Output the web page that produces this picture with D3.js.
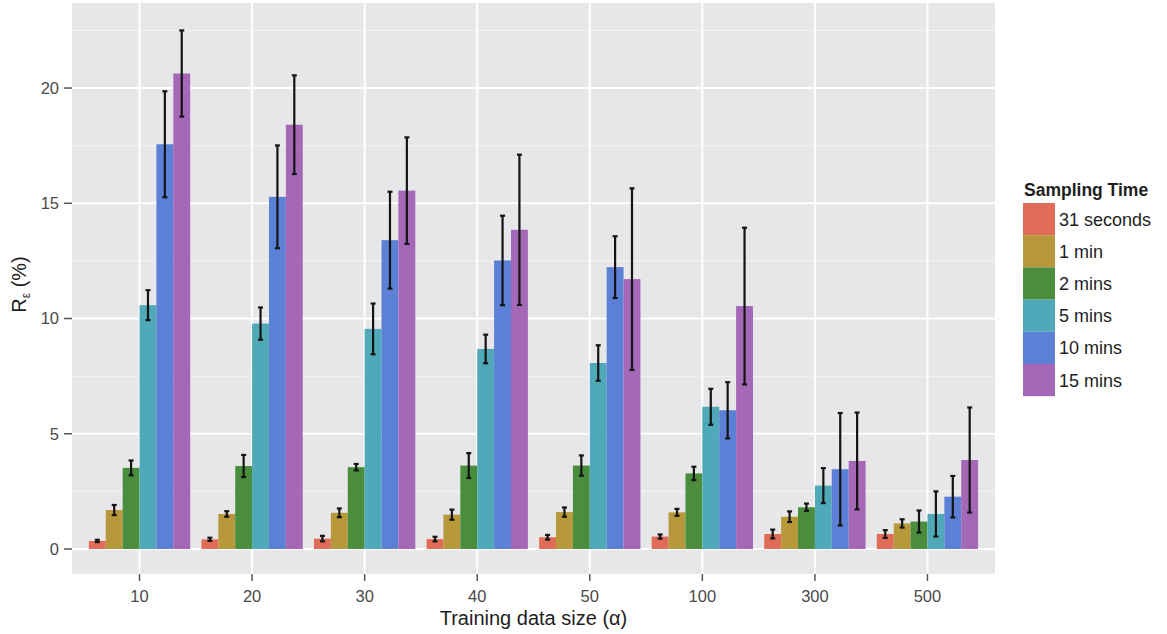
<!DOCTYPE html>
<html>
<head>
<meta charset="utf-8">
<script src="https://cdn.jsdelivr.net/npm/d3@7"></script>
<style>
  html, body { margin: 0; padding: 0; background: #ffffff; }
  svg { display: block; }
  text { font-family: "Liberation Sans", Arial, Helvetica, sans-serif; }
</style>
</head>
<body>
<svg id="chart" width="1167" height="634"></svg>
<script>
// ---- Data ----
const categories = ["10", "20", "30", "40", "50", "100", "300", "500"];
const seriesNames = ["31 seconds", "1 min", "2 mins", "5 mins", "10 mins", "15 mins"];
const seriesColors = ["#E06C57", "#B7983A", "#4A8D3D", "#4FA9B8", "#5C80D6", "#A468B7"];

const mean31s  = [0.35, 0.42, 0.45, 0.43, 0.51, 0.54, 0.65, 0.65];
const err31s   = [0.05, 0.07, 0.12, 0.10, 0.10, 0.09, 0.19, 0.17];
const mean1m   = [1.69, 1.52, 1.57, 1.49, 1.60, 1.59, 1.40, 1.11];
const err1m    = [0.22, 0.12, 0.19, 0.22, 0.20, 0.15, 0.23, 0.18];
const mean2m   = [3.52, 3.60, 3.55, 3.62, 3.62, 3.28, 1.81, 1.19];
const err2m    = [0.32, 0.48, 0.14, 0.54, 0.44, 0.29, 0.16, 0.48];
const mean5m   = [10.58, 9.78, 9.55, 8.68, 8.07, 6.17, 2.75, 1.52];
const err5m    = [0.65, 0.70, 1.10, 0.62, 0.77, 0.78, 0.76, 0.98];
const mean10m  = [17.56, 15.28, 13.40, 12.52, 12.23, 6.02, 3.46, 2.27];
const err10m   = [2.30, 2.23, 2.10, 1.94, 1.34, 1.22, 2.44, 0.90];
const mean15m  = [20.63, 18.41, 15.55, 13.85, 11.71, 10.54, 3.82, 3.86];
const err15m   = [1.87, 2.14, 2.31, 3.26, 3.94, 3.40, 2.10, 2.28];

const yMajorTicks = [0, 5, 10, 15, 20];
const yMinorTicks = [2.5, 7.5, 12.5, 17.5, 22.5];

const allMeans = [mean31s, mean1m, mean2m, mean5m, mean10m, mean15m];
const allErrs  = [err31s, err1m, err2m, err5m, err10m, err15m];

const records = [];
categories.forEach((c, ci) => {
  seriesNames.forEach((s, si) => {
    records.push({ cat: c, series: s, value: allMeans[si][ci], err: allErrs[si][ci] });
  });
});

// ---- Layout ----
const svg = d3.select("#chart");
const panel = { left: 72, right: 995, top: 3, bottom: 574 };

// discrete axis with 0.6-unit expansion on each side (ggplot style)
const x = d3.scalePoint().domain(categories).range([panel.left, panel.right]).padding(0.6);
const step = x.step();
const xSub = d3.scaleBand().domain(seriesNames).range([-0.45 * step, 0.45 * step]).padding(0);

const y = d3.scaleLinear().domain([-1.085, 23.69]).range([panel.bottom, panel.top]);
const color = d3.scaleOrdinal().domain(seriesNames).range(seriesColors);

// panel background
svg.append("rect")
  .attr("x", panel.left).attr("y", panel.top)
  .attr("width", panel.right - panel.left).attr("height", panel.bottom - panel.top)
  .attr("fill", "#E7E7EA");

// grid
const grid = svg.append("g");
grid.selectAll("line.minor").data(yMinorTicks).enter().append("line")
  .attr("x1", panel.left).attr("x2", panel.right)
  .attr("y1", d => y(d)).attr("y2", d => y(d))
  .attr("stroke", "#F5F5F6").attr("stroke-width", 1);
grid.selectAll("line.major").data(yMajorTicks).enter().append("line")
  .attr("x1", panel.left).attr("x2", panel.right)
  .attr("y1", d => y(d)).attr("y2", d => y(d))
  .attr("stroke", "#FFFFFF").attr("stroke-width", 2);
grid.selectAll("line.vmajor").data(categories).enter().append("line")
  .attr("x1", d => x(d)).attr("x2", d => x(d))
  .attr("y1", panel.top).attr("y2", panel.bottom)
  .attr("stroke", "#FFFFFF").attr("stroke-width", 2);

// bars
svg.append("g").selectAll("rect").data(records).enter().append("rect")
  .attr("x", d => x(d.cat) + xSub(d.series))
  .attr("width", xSub.bandwidth())
  .attr("y", d => y(d.value))
  .attr("height", d => y(0) - y(d.value))
  .attr("fill", d => color(d.series));

// error bars
const eb = svg.append("g").attr("stroke", "#141414").attr("stroke-width", 2.2);
const capW = 2.5;
records.forEach(d => {
  const cx = x(d.cat) + xSub(d.series) + xSub.bandwidth() / 2;
  const y1 = y(d.value + d.err), y2 = y(Math.max(0, d.value - d.err));
  eb.append("line").attr("x1", cx).attr("x2", cx).attr("y1", y1).attr("y2", y2);
  eb.append("line").attr("x1", cx - capW).attr("x2", cx + capW).attr("y1", y1).attr("y2", y1);
  eb.append("line").attr("x1", cx - capW).attr("x2", cx + capW).attr("y1", y2).attr("y2", y2);
});

// y axis
const yAxis = svg.append("g");
yMajorTicks.forEach(t => {
  yAxis.append("line").attr("x1", 64).attr("x2", panel.left)
    .attr("y1", y(t)).attr("y2", y(t)).attr("stroke", "#555").attr("stroke-width", 1.5);
  yAxis.append("text").attr("x", 59).attr("y", y(t)).attr("dy", "0.36em")
    .attr("text-anchor", "end").attr("font-size", 16.5).attr("fill", "#4a4a4a").text(t);
});

// x axis
const xAxis = svg.append("g");
categories.forEach(c => {
  const cx = x(c);
  xAxis.append("line").attr("x1", cx).attr("x2", cx)
    .attr("y1", panel.bottom).attr("y2", panel.bottom + 7).attr("stroke", "#555").attr("stroke-width", 1.5);
  xAxis.append("text").attr("x", cx).attr("y", 602)
    .attr("text-anchor", "middle").attr("font-size", 16.5).attr("fill", "#4a4a4a").text(c);
});

// axis titles
svg.append("text").attr("x", (panel.left + panel.right) / 2).attr("y", 625)
  .attr("text-anchor", "middle").attr("font-size", 20).attr("fill", "#1e1e1e")
  .text("Training data size (\u03B1)");

const yt = svg.append("text")
  .attr("transform", `translate(26, ${(panel.top + panel.bottom) / 2 - 4}) rotate(-90)`)
  .attr("text-anchor", "middle").attr("font-size", 20).attr("fill", "#1e1e1e");
yt.append("tspan").text("R");
yt.append("tspan").attr("font-size", 12).attr("dy", 4).text("\u03B5");
yt.append("tspan").attr("dy", -4).text(" (%)");

// legend
const lg = svg.append("g");
lg.append("text").attr("x", 1024).attr("y", 196)
  .attr("font-size", 17.5).attr("font-weight", "bold").attr("fill", "#1e1e1e").text("Sampling Time");
const keyTop = 203, keyH = 32.2, keyW = 32, keyX = 1023;
seriesNames.forEach((s, i) => {
  lg.append("rect").attr("x", keyX).attr("y", keyTop + i * keyH)
    .attr("width", keyW).attr("height", keyH).attr("fill", color(s));
  lg.append("text").attr("x", 1059).attr("y", keyTop + i * keyH + keyH / 2)
    .attr("dy", "0.36em").attr("font-size", 18).attr("fill", "#1e1e1e").text(s);
});
</script>
</body>
</html>
